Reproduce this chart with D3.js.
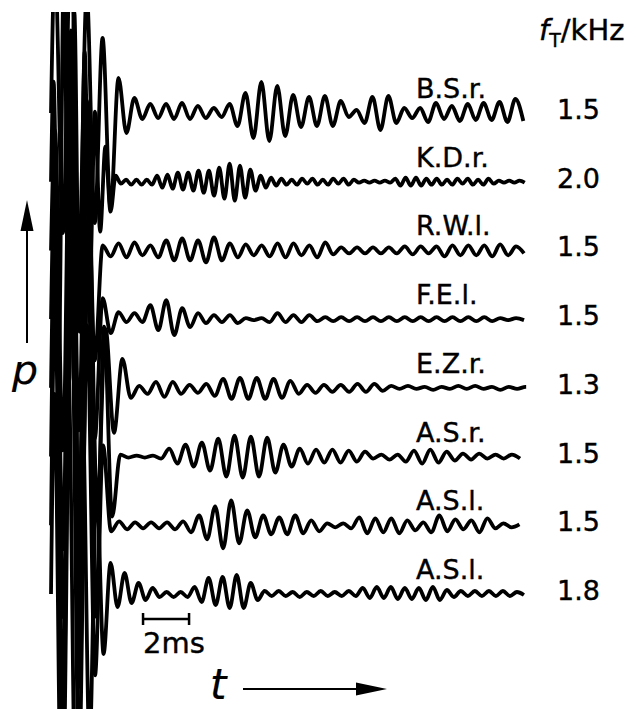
<!DOCTYPE html>
<html>
<head>
<meta charset="utf-8">
<script src="https://cdn.jsdelivr.net/npm/d3@7"></script>
<style>
  body { margin: 0; background: #fff; }
  #svg-container { width: 636px; height: 709px; }
  svg { display: block; font-family: "DejaVu Sans", sans-serif; }
  text { stroke: #000; stroke-width: 0.4px; }
</style>
</head>
<body>
<div id="svg-container"></div>
<script>
var width = 636, height = 709;

// subjects and their tinnitus frequency
var names = ["B.S.r.", "K.D.r.", "R.W.l.", "F.E.l.", "E.Z.r.", "A.S.r.", "A.S.l.", "A.S.l. "];
var fT = ["1.5", "2.0", "1.5", "1.5", "1.3", "1.5", "1.5", "1.8"];

// oscillation period (ms)
var periodMs = [0.690, 0.450, 0.691, 0.691, 0.730, 0.709, 0.696, 0.609];

// size of successive half-wave peaks (first one upward), relative units
var bsr = [150,120,180,150,120,110,75,95,
  35,20,15,6,9,5,9,6,10,6, 7,5,5,4,9,13,20,25,31,28,
  27,23,18,14,16,13,17,13,12,4, 3,10,16,17,17,10,5,5,5,9,
  10,6,7,8,9,7,10,7,11,9, 14,8];
var kdr = [100,180,220,200,170,150,130,100,70,50,35,30,6,
  2,2,3,2,3,2,3,
  6,6,7,7,9,8,9,9,11,11,11,14,14,17,18,19,16,16,12,9,6,6,4,4,3,
  3,2,3,3,2,3,3,2,3,3,2,3,3,2,
  1,1,1,1,1,1,1,
  3,4,4,4,4,4,3,3,3,
  3,2,3,3,2,3,3,2,3,3,2,
  1,1,1,1,1,1];
var rwl = [120,200,220,180,150,110,
  5,6,7,7,8,5,5,7,10,10, 12,10,10,12,13,10,7,7,6,5,
  5,6,7,7,7,5,5,7,8,4, 3,3,3,3,3,3,3,3,4,4,
  4,3,4,6,5,5,5,5,5,6, 6,5,4,3];
var fel = [150,230,250,200,160,120,
  21,14,7,3,6,3,14,11,19,16, 11,8,6,4,4,3,4,4,1,1, 1,3,6,3,4,3,4,
  2,2,2,2,2,2,2,2,2,2,2,2,2,2,2,2,2,2,2,2,2,2,2,
  1,1,1,1];
var ezr = [180,230,250,230,180,120,
  59,45,29,10,2,6,6,9,6,6, 3,5,4,8,9,11,10,11,10,11,
  9,10,7,6,3,5,3,4,3,4, 4,4,4,3,2,
  1,2,1,1,2,1,1,2,1,2,1,1,2,1,1,1,1];
var asr = [200,250,260,230,200,160,130,60,
  2,1,1,1,1,2,8,7,12,10, 14,14,18,20,21,21,20,20,19,16,
  12,10,8,7,7,6,7,6,6,5, 5,2,2,3,2,5,6,7,7,6,
  5,4,3,3,3,2,2,2,2,2];
var asl1 = [220,260,270,240,200,150,80,
  6,4,4,3,3,3,3,3,4,4, 7,10,14,19,23,25,18,15,12,10,
  9,8,9,10,8,5,6,2,2,2, 3,8,8,7,7,7,8,5,5,3,
  7,10,6,6,4,5,7,7,3,2, 2,1];
var asl2 = [200,230,220,200,180,150,110,60,
  31,13,21,9,11,6,6,3,2,3, 2,3,7,8,16,11,17,14,19,14, 11,6,3,
  2,3,2,2,3,2,2,3,2,2,2,3,2,
  6,4,7,4,7,5,6,5,6,6,7,6,4,3,3,
  2,3,2,3,2,3,2,2,1];

var peaks = [bsr, kdr, rwl, fel, ezr, asr, asl1, asl2];

var svg = d3.select("#svg-container")
            .append("svg")
            .attr("width", width)
            .attr("height", height);

var scaleX = d3.scaleLinear()
               .domain([0, 20.6])
               .range([51, 525]);

var rowY = d3.scalePoint()
             .domain(names)
             .range([113, 594]);

var ampY = d3.scaleLinear()
             .domain([-100, 100])
             .range([100, -100]);

// the oscillograms are cut off at the top edge and at the end of the sweep
svg.append("defs")
   .append("clipPath")
   .attr("id", "clip")
   .append("rect")
   .attr("x", 0)
   .attr("y", 12)
   .attr("width", scaleX(20.65))
   .attr("height", height - 12);

function tracePoints(i) {
  var half = periodMs[i] / 2;
  var pts = [{ t: 0, v: 0 }];
  peaks[i].forEach(function(a, k) {
    pts.push({ t: (k + 0.5) * half, v: k % 2 ? -a : a });
  });
  return pts;
}

var traces = svg.append("g")
                .attr("clip-path", "url(#clip)");

names.forEach(function(name, i) {
  var base = rowY(name);
  var line = d3.line()
               .x(function(d) { return scaleX(d.t); })
               .y(function(d) { return base + ampY(d.v); })
               .curve(d3.curveMonotoneX);

  traces.append("path")
        .datum(tracePoints(i))
        .attr("class", "trace")
        .attr("fill", "none")
        .attr("stroke", "#000")
        .attr("stroke-width", 3.8)
        .attr("stroke-linejoin", "round")
        .attr("d", line);
});

// subject labels and frequencies
svg.selectAll(".name")
   .data(names)
   .enter()
   .append("text")
   .attr("class", "name")
   .attr("x", 416)
   .attr("y", function(d) { return rowY(d) - 15; })
   .attr("font-size", 27)
   .text(function(d) { return d.trim(); });

svg.selectAll(".freq")
   .data(fT)
   .enter()
   .append("text")
   .attr("class", "freq")
   .attr("x", 600)
   .attr("y", function(d, i) { return rowY(names[i]) + 6; })
   .attr("text-anchor", "end")
   .attr("font-size", 27)
   .text(function(d) { return d; });

var head = svg.append("text")
              .attr("x", 539)
              .attr("y", 40)
              .attr("font-size", 29);
head.append("tspan").attr("font-style", "italic").text("f");
head.append("tspan").attr("font-size", 19).attr("dy", 7).text("T");
head.append("tspan").attr("dy", -7).text("/kHz");

// p axis with arrow
svg.append("line")
   .attr("x1", 27).attr("x2", 27)
   .attr("y1", 343).attr("y2", 226)
   .attr("stroke", "#000").attr("stroke-width", 2);
svg.append("path")
   .attr("d", "M27,200L33.5,231L20.5,231Z")
   .attr("fill", "#000");
svg.append("text")
   .attr("x", 12)
   .attr("y", 384)
   .attr("font-size", 41)
   .attr("font-style", "italic")
   .style("stroke-width", "0.2px")
   .text("p");

// t axis with arrow
svg.append("line")
   .attr("x1", 243).attr("x2", 360)
   .attr("y1", 689).attr("y2", 689)
   .attr("stroke", "#000").attr("stroke-width", 2);
svg.append("path")
   .attr("d", "M387,689L356,682.5L356,695.5Z")
   .attr("fill", "#000");
svg.append("text")
   .attr("x", 210)
   .attr("y", 699)
   .attr("font-size", 42)
   .attr("font-style", "italic")
   .style("stroke-width", "0.2px")
   .text("t");

// 2 ms scale bar
var bar = svg.append("g")
             .attr("stroke", "#000")
             .attr("stroke-width", 2.5);
bar.append("line")
   .attr("x1", scaleX(4)).attr("x2", scaleX(6))
   .attr("y1", 619).attr("y2", 619);
bar.selectAll(".tick")
   .data([4, 6])
   .enter()
   .append("line")
   .attr("x1", function(d) { return scaleX(d); })
   .attr("x2", function(d) { return scaleX(d); })
   .attr("y1", 613).attr("y2", 625);
svg.append("text")
   .attr("x", scaleX(4))
   .attr("y", 653)
   .attr("font-size", 29)
   .text("2ms");
</script>
</body>
</html>
